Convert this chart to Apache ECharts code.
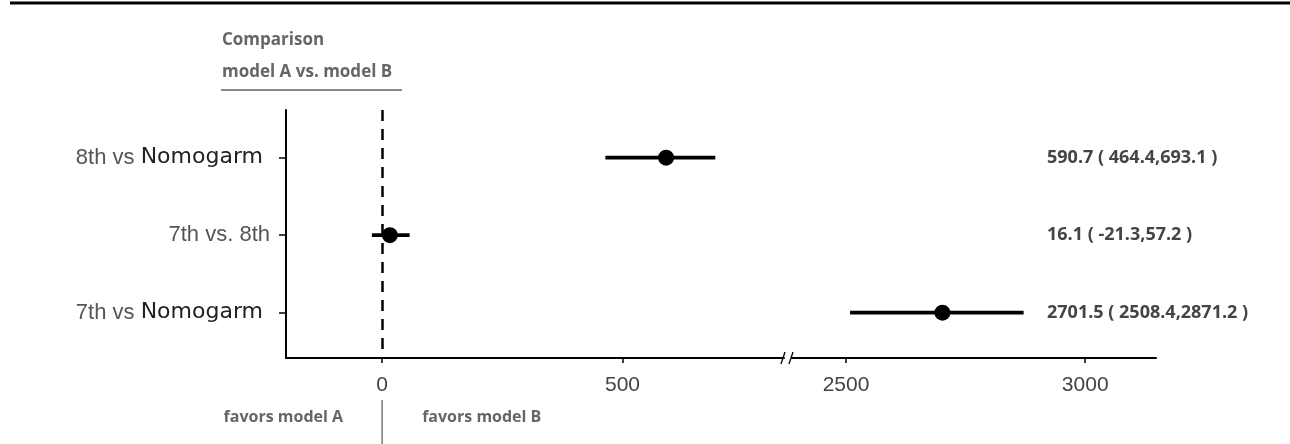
<!DOCTYPE html>
<html>
<head>
<meta charset="utf-8">
<script src="https://cdn.jsdelivr.net/npm/echarts@6/dist/echarts.min.js"></script>
<style>
html,body{margin:0;padding:0;background:#fff;}
#chart{width:1290px;height:444px;}
</style>
</head>
<body>
<div id="chart"></div>
<script>
// ---- data ----
const categories = ['8th vs Nomogarm', '7th vs. 8th', '7th vs Nomogarm'];
const estimates = [590.7, 16.1, 2701.5];
const lowerCI = [464.4, -21.3, 2508.4];
const upperCI = [693.1, 57.2, 2871.2];
const leftTicks = [0, 500];
const rightTicks = [2500, 3000];
const leftRange = [-200, 836];
const rightRange = [2387, 3148];
const headerLines = ['Comparison', 'model A vs. model B'];
const favorLabels = ['favors model A', 'favors model B'];

const catIdx = categories.map((_, i) => i);
const rows = catIdx.map(i => [lowerCI[i], upperCI[i], estimates[i], i]);
const leftRows = rows.filter(r => r[2] <= leftRange[1]);
const rightRows = rows.filter(r => r[2] >= rightRange[0]);

const yMin = -0.615, yMax = 2.585;

const chart = echarts.init(document.getElementById('chart'), null, {renderer: 'canvas'});

function renderItem(params, api) {
  const y = api.value(3);
  const lo = api.coord([api.value(0), y]);
  const hi = api.coord([api.value(1), y]);
  const c = api.coord([api.value(2), y]);
  return {
    type: 'group',
    children: [
      {type: 'line', shape: {x1: lo[0], y1: lo[1], x2: hi[0], y2: hi[1]}, style: {stroke: '#000', lineWidth: 3.8}},
      {type: 'circle', shape: {cx: c[0], cy: c[1], r: 8}, style: {fill: '#000'}}
    ]
  };
}

const xLabelStyle = {color: '#444', fontFamily: 'Liberation Sans, Arial, sans-serif', fontSize: 21, margin: 17, formatter: v => String(v)};

function yLabel(v) {
  const name = categories[v];
  if (name === undefined) return '';
  const k = name.indexOf('Nomogarm');
  if (k >= 0) return '{a|' + name.slice(0, k) + '}{b|Nomogarm }';
  return '{a|' + name + '}';
}

const option = {
  backgroundColor: '#fff',
  animation: false,
  grid: [
    {left: 286, top: 110, width: 498, height: 248},
    {left: 792, top: 110, width: 364, height: 248},
    {left: 1047, top: 110, width: 220, height: 248}
  ],
  xAxis: [
    {
      type: 'value', gridIndex: 0, min: leftRange[0], max: leftRange[1], position: 'bottom',
      splitLine: {show: false},
      axisLine: {show: true, onZero: false, lineStyle: {color: '#000', width: 2}},
      axisTick: {show: true, length: 5, customValues: leftTicks, lineStyle: {color: '#000', width: 1.5}},
      axisLabel: Object.assign({customValues: leftTicks}, xLabelStyle)
    },
    {
      type: 'value', gridIndex: 1, min: rightRange[0], max: rightRange[1], position: 'bottom',
      splitLine: {show: false},
      axisLine: {show: true, onZero: false, lineStyle: {color: '#000', width: 2}},
      axisTick: {show: true, length: 5, customValues: rightTicks, lineStyle: {color: '#000', width: 1.5}},
      axisLabel: Object.assign({customValues: rightTicks}, xLabelStyle)
    },
    {type: 'value', gridIndex: 2, show: false}
  ],
  yAxis: [
    {
      type: 'value', gridIndex: 0, inverse: true, min: yMin, max: yMax, position: 'left',
      splitLine: {show: false},
      axisLine: {show: true, onZero: false, lineStyle: {color: '#000', width: 2}},
      axisTick: {show: true, length: 7, customValues: catIdx, lineStyle: {color: '#000', width: 1.5}},
      axisLabel: {
        customValues: catIdx, margin: 16, formatter: yLabel,
        rich: {
          a: {fontFamily: 'Liberation Sans, Arial, sans-serif', fontSize: 22, color: '#555'},
          b: {fontFamily: 'DejaVu Sans, sans-serif', fontSize: 22, color: '#222'}
        }
      }
    },
    {
      type: 'value', gridIndex: 1, inverse: true, min: yMin, max: yMax, show: false
    },
    {
      type: 'value', gridIndex: 2, inverse: true, min: yMin, max: yMax, position: 'left',
      splitLine: {show: false},
      axisLine: {show: false, onZero: false}, axisTick: {show: false},
      axisLabel: {
        inside: true, margin: 0, align: 'left', customValues: catIdx,
        fontFamily: 'Open Sans, sans-serif', fontWeight: 'bold', fontSize: 18, color: '#444',
        formatter: v => estimates[v].toFixed(1) + ' ( ' + lowerCI[v].toFixed(1) + ',' + upperCI[v].toFixed(1) + ' )'
      }
    }
  ],
  series: [
    {
      type: 'custom', xAxisIndex: 0, yAxisIndex: 0, renderItem: renderItem,
      encode: {x: [0, 1, 2], y: 3}, data: leftRows, clip: false,
      markLine: {
        silent: true, symbol: 'none', label: {show: false},
        lineStyle: {color: '#000', width: 2.5, type: [11, 8]},
        data: [{xAxis: 0}]
      }
    },
    {
      type: 'custom', xAxisIndex: 1, yAxisIndex: 1, renderItem: renderItem,
      encode: {x: [0, 1, 2], y: 3}, data: rightRows, clip: false
    }
  ]
};
chart.setOption(option);

// annotations placed from axis positions
const x0 = chart.convertToPixel({xAxisIndex: 0}, 0);
const xBreakL = chart.convertToPixel({xAxisIndex: 0}, leftRange[1]);
const xBreakR = chart.convertToPixel({xAxisIndex: 1}, rightRange[0]);
const yAxisBottom = chart.convertToPixel({yAxisIndex: 0}, yMax);
const yAxisLeft = chart.convertToPixel({xAxisIndex: 0}, leftRange[0]);
const hdrFont = {fontFamily: 'Open Sans, sans-serif', fontWeight: 'bold', fontSize: 17, fill: '#666'};
const favFont = {fontFamily: 'Open Sans, sans-serif', fontWeight: 'bold', fontSize: 16, fill: '#666'};

chart.setOption({
  graphic: [
    {type: 'line', shape: {x1: 10, y1: 3, x2: 1290, y2: 3}, style: {stroke: '#000', lineWidth: 3}},
    {type: 'text', x: yAxisLeft - 64, y: 40, style: Object.assign({text: headerLines[0], verticalAlign: 'middle'}, hdrFont)},
    {type: 'text', x: yAxisLeft - 64, y: 72, style: Object.assign({text: headerLines[1], verticalAlign: 'middle'}, hdrFont)},
    {type: 'line', shape: {x1: yAxisLeft - 65, y1: 90, x2: yAxisLeft + 116, y2: 90}, style: {stroke: '#888', lineWidth: 2}},
    {type: 'line', shape: {x1: x0, y1: 400, x2: x0, y2: 444}, style: {stroke: '#777', lineWidth: 1.5}},
    {type: 'text', x: x0 - 39, y: 417, style: Object.assign({text: favorLabels[0], align: 'right', verticalAlign: 'middle'}, favFont)},
    {type: 'text', x: x0 + 40, y: 417, style: Object.assign({text: favorLabels[1], align: 'left', verticalAlign: 'middle'}, favFont)},
    {type: 'line', shape: {x1: xBreakL - 3, y1: yAxisBottom + 6, x2: xBreakL + 1, y2: yAxisBottom - 6}, style: {stroke: '#000', lineWidth: 1.3}},
    {type: 'line', shape: {x1: xBreakR - 3, y1: yAxisBottom + 6, x2: xBreakR + 1, y2: yAxisBottom - 6}, style: {stroke: '#000', lineWidth: 1.3}}
  ]
});
</script>
</body>
</html>
